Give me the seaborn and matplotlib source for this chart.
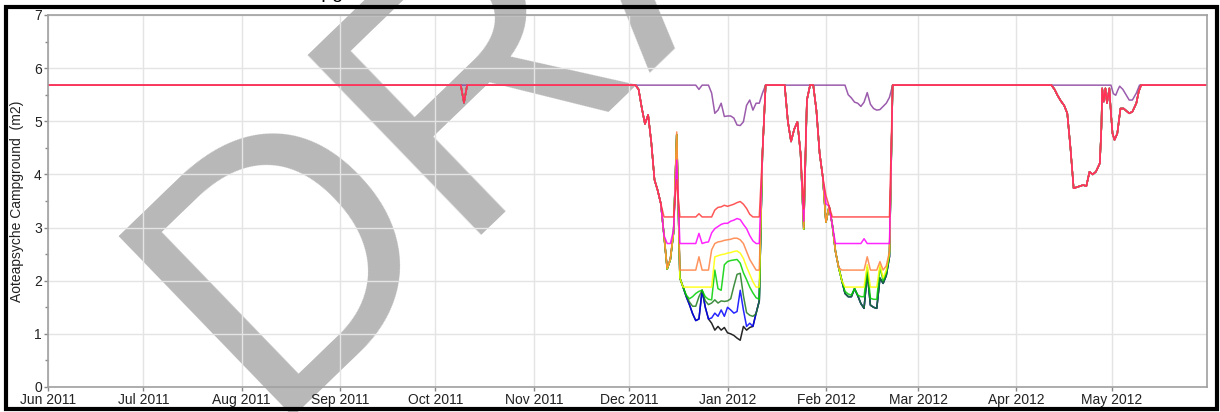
import pandas as pd
import matplotlib
matplotlib.use("Agg")
import matplotlib.pyplot as plt
import matplotlib.dates as mdates
from matplotlib.patches import Rectangle
from matplotlib.ticker import MultipleLocator
import seaborn as sns

# --- data (area in m2) ---
head = [("2011-06-01", 5.68), ("2011-10-09", 5.68), ("2011-10-10", 5.35), ("2011-10-11", 5.68)]
descent = [("2011-12-03", 5.68), ("2011-12-04", 5.60), ("2011-12-05", 5.25), ("2011-12-06", 4.95),
           ("2011-12-07", 5.12), ("2011-12-08", 4.60), ("2011-12-09", 3.90), ("2011-12-10", 3.70),
           ("2011-12-11", 3.45)]
late_jan = [("2012-01-12", 4.40), ("2012-01-13", 5.68), ("2012-01-19", 5.68), ("2012-01-20", 5.00),
            ("2012-01-21", 4.62), ("2012-01-22", 4.85), ("2012-01-23", 4.99), ("2012-01-24", 4.40),
            ("2012-01-26", 5.40), ("2012-01-27", 5.68), ("2012-01-28", 5.68), ("2012-01-29", 5.20),
            ("2012-01-30", 4.40), ("2012-01-31", 3.95), ("2012-02-02", 3.40), ("2012-02-22", 5.68)]
spring = [("2012-04-12", 5.68), ("2012-04-13", 5.60), ("2012-04-14", 5.48), ("2012-04-15", 5.38),
          ("2012-04-16", 5.30), ("2012-04-17", 5.15), ("2012-04-18", 4.50), ("2012-04-19", 3.74),
          ("2012-04-20", 3.76), ("2012-04-21", 3.78), ("2012-04-22", 3.80), ("2012-04-23", 3.78),
          ("2012-04-24", 4.05), ("2012-04-25", 4.00), ("2012-04-26", 4.05), ("2012-04-27 06:00", 4.21),
          ("2012-04-27 18:00", 4.90), ("2012-04-28 00:00", 5.62), ("2012-04-28 12:00", 5.37),
          ("2012-04-29 00:00", 5.62), ("2012-04-29 12:00", 5.34), ("2012-04-30 06:00", 5.62),
          ("2012-04-30 18:00", 5.15), ("2012-05-01 06:00", 4.77), ("2012-05-01 21:00", 4.65),
          ("2012-05-02 18:00", 4.77), ("2012-05-03 18:00", 5.24), ("2012-05-04 18:00", 5.24),
          ("2012-05-06 12:00", 5.15), ("2012-05-07 12:00", 5.18), ("2012-05-08 18:00", 5.34),
          ("2012-05-09 12:00", 5.56), ("2012-05-10 06:00", 5.68), ("2012-05-31", 5.68)]
low_trough = [("2011-12-12", 2.85), ("2011-12-13", 2.22), ("2011-12-14", 2.40), ("2011-12-15", 2.90),
              ("2011-12-16", 4.75), ("2011-12-17", 2.05), ("2011-12-18", 1.88)]
low_feb_start = [("2012-01-25", 2.97), ("2012-02-01", 3.10), ("2012-02-03", 3.05), ("2012-02-04", 2.55),
                 ("2012-02-05", 2.25), ("2012-02-06", 2.00)]
low_feb = [("2012-02-07", 1.76), ("2012-02-08", 1.70), ("2012-02-09", 1.70), ("2012-02-10", 1.85),
           ("2012-02-11", 1.72), ("2012-02-12", 1.57), ("2012-02-13", 1.48), ("2012-02-14", 2.15),
           ("2012-02-15", 1.54), ("2012-02-16", 1.50), ("2012-02-17", 1.48), ("2012-02-18", 2.05),
           ("2012-02-19", 1.95), ("2012-02-20", 2.10), ("2012-02-21", 2.45)]

red_own = [("2011-12-12", 3.20), ("2011-12-15", 3.20), ("2011-12-16", 3.90), ("2011-12-17", 3.20),
           ("2011-12-22", 3.20), ("2011-12-23", 3.26), ("2011-12-24", 3.20), ("2011-12-27", 3.20),
           ("2011-12-28", 3.33), ("2011-12-29", 3.38), ("2011-12-30", 3.39), ("2011-12-31", 3.42),
           ("2012-01-01", 3.40), ("2012-01-02", 3.42), ("2012-01-03", 3.44), ("2012-01-04", 3.47),
           ("2012-01-05", 3.49), ("2012-01-06", 3.44), ("2012-01-07", 3.36), ("2012-01-08", 3.25),
           ("2012-01-09", 3.20), ("2012-01-11", 3.20), ("2012-01-25", 3.35), ("2012-02-01", 3.60),
           ("2012-02-03", 3.20), ("2012-02-21", 3.20)]
magenta_own = [("2011-12-12", 2.85), ("2011-12-13", 2.70), ("2011-12-14", 2.70), ("2011-12-15", 2.95),
               ("2011-12-16", 4.27), ("2011-12-17", 2.70), ("2011-12-22", 2.70), ("2011-12-23", 2.89),
               ("2011-12-24", 2.70), ("2011-12-25", 2.72), ("2011-12-26", 2.73), ("2011-12-27", 2.90),
               ("2011-12-28", 2.98), ("2011-12-29", 3.02), ("2011-12-30", 3.06), ("2011-12-31", 3.08),
               ("2012-01-01", 3.08), ("2012-01-02", 3.12), ("2012-01-03", 3.14), ("2012-01-04", 3.17),
               ("2012-01-05", 3.15), ("2012-01-06", 3.06), ("2012-01-07", 2.98), ("2012-01-08", 2.85),
               ("2012-01-09", 2.75), ("2012-01-10", 2.70), ("2012-01-11", 2.70), ("2012-01-25", 3.12),
               ("2012-02-01", 3.45), ("2012-02-03", 3.05), ("2012-02-04", 2.70), ("2012-02-12", 2.70),
               ("2012-02-13", 2.79), ("2012-02-14", 2.70), ("2012-02-21", 2.70)]
orange_own = [("2011-12-12", 2.85), ("2011-12-13", 2.24), ("2011-12-14", 2.42), ("2011-12-15", 2.95),
              ("2011-12-16", 4.80), ("2011-12-17", 2.20), ("2011-12-22", 2.20), ("2011-12-23", 2.45),
              ("2011-12-24", 2.20), ("2011-12-26", 2.20), ("2011-12-27", 2.58), ("2011-12-28", 2.70),
              ("2011-12-29", 2.73), ("2011-12-30", 2.74), ("2011-12-31", 2.76), ("2012-01-01", 2.77),
              ("2012-01-02", 2.78), ("2012-01-03", 2.80), ("2012-01-04", 2.80), ("2012-01-05", 2.77),
              ("2012-01-06", 2.70), ("2012-01-07", 2.55), ("2012-01-08", 2.40), ("2012-01-09", 2.30),
              ("2012-01-10", 2.20), ("2012-01-11", 2.20), ("2012-01-25", 3.00), ("2012-02-01", 3.10),
              ("2012-02-03", 3.05), ("2012-02-04", 2.55), ("2012-02-05", 2.25), ("2012-02-06", 2.20),
              ("2012-02-13", 2.20), ("2012-02-14", 2.45), ("2012-02-15", 2.20), ("2012-02-17", 2.20),
              ("2012-02-18", 2.36), ("2012-02-19", 2.20), ("2012-02-20", 2.28), ("2012-02-21", 2.55)]
yellow_own = [("2011-12-27", 1.88), ("2011-12-28", 2.45), ("2011-12-29", 2.47), ("2011-12-30", 2.49),
              ("2011-12-31", 2.50), ("2012-01-01", 2.52), ("2012-01-02", 2.53), ("2012-01-03", 2.55),
              ("2012-01-04", 2.56), ("2012-01-05", 2.52), ("2012-01-06", 2.42), ("2012-01-07", 2.26),
              ("2012-01-08", 2.12), ("2012-01-09", 1.98), ("2012-01-10", 1.88), ("2012-01-11", 1.88),
              ("2012-02-07", 1.88), ("2012-02-13", 1.88), ("2012-02-14", 2.30), ("2012-02-15", 1.88),
              ("2012-02-17", 1.88), ("2012-02-18", 2.30), ("2012-02-19", 2.05), ("2012-02-20", 2.20),
              ("2012-02-21", 2.52)]
green_own = [("2011-12-19", 1.73), ("2011-12-20", 1.66), ("2011-12-21", 1.70), ("2011-12-22", 1.76),
             ("2011-12-23", 1.80), ("2011-12-24", 1.82), ("2011-12-25", 1.70), ("2011-12-26", 1.65),
             ("2011-12-27", 1.64), ("2011-12-28", 2.20), ("2011-12-29", 1.85), ("2011-12-30", 1.82),
             ("2011-12-31", 2.30), ("2012-01-01", 2.36), ("2012-01-02", 2.38), ("2012-01-03", 2.39),
             ("2012-01-04", 2.40), ("2012-01-05", 2.33), ("2012-01-06", 2.15), ("2012-01-07", 2.02),
             ("2012-01-08", 1.88), ("2012-01-09", 1.77), ("2012-01-10", 1.68), ("2012-01-11", 1.65),
             ("2012-02-07", 1.80), ("2012-02-08", 1.75), ("2012-02-09", 1.73), ("2012-02-10", 1.85),
             ("2012-02-11", 1.73), ("2012-02-12", 1.70), ("2012-02-13", 1.70), ("2012-02-14", 2.25),
             ("2012-02-15", 1.67), ("2012-02-16", 1.65), ("2012-02-17", 1.65), ("2012-02-18", 2.25),
             ("2012-02-19", 2.00), ("2012-02-20", 2.15), ("2012-02-21", 2.50)]
dkgreen_own = [("2011-12-19", 1.72), ("2011-12-20", 1.60), ("2011-12-21", 1.52), ("2011-12-22", 1.52),
               ("2011-12-23", 1.70), ("2011-12-24", 1.82), ("2011-12-25", 1.62), ("2011-12-26", 1.55),
               ("2011-12-27", 1.58), ("2011-12-28", 1.64), ("2011-12-29", 1.58), ("2011-12-30", 1.62),
               ("2011-12-31", 1.61), ("2012-01-01", 1.62), ("2012-01-02", 1.66), ("2012-01-03", 1.90),
               ("2012-01-04", 2.12), ("2012-01-05", 2.14), ("2012-01-06", 1.72), ("2012-01-07", 1.40),
               ("2012-01-08", 1.35), ("2012-01-09", 1.33), ("2012-01-10", 1.38), ("2012-01-11", 1.62)]
blue_own = [("2011-12-19", 1.70), ("2011-12-20", 1.55), ("2011-12-21", 1.38), ("2011-12-22", 1.25),
            ("2011-12-23", 1.28), ("2011-12-24", 1.82), ("2011-12-25", 1.50), ("2011-12-26", 1.28),
            ("2011-12-27", 1.30), ("2011-12-28", 1.39), ("2011-12-29", 1.33), ("2011-12-30", 1.45),
            ("2011-12-31", 1.33), ("2012-01-01", 1.50), ("2012-01-02", 1.45), ("2012-01-03", 1.39),
            ("2012-01-04", 1.42), ("2012-01-05", 1.82), ("2012-01-06", 1.45), ("2012-01-07", 1.14),
            ("2012-01-08", 1.20), ("2012-01-09", 1.14), ("2012-01-10", 1.39), ("2012-01-11", 1.62)]
black_own = [("2011-12-19", 1.70), ("2011-12-20", 1.55), ("2011-12-21", 1.38), ("2011-12-22", 1.25),
             ("2011-12-23", 1.28), ("2011-12-24", 1.82), ("2011-12-25", 1.50), ("2011-12-26", 1.28),
             ("2011-12-27", 1.20), ("2011-12-28", 1.07), ("2011-12-29", 1.14), ("2011-12-30", 1.07),
             ("2011-12-31", 1.12), ("2012-01-01", 1.02), ("2012-01-02", 1.00), ("2012-01-03", 0.97),
             ("2012-01-04", 0.92), ("2012-01-05", 0.88), ("2012-01-06", 1.14), ("2012-01-07", 1.07),
             ("2012-01-08", 1.12), ("2012-01-09", 1.14), ("2012-01-10", 1.39), ("2012-01-11", 1.62)]
purple = [("2011-06-01", 5.68), ("2011-12-22", 5.68), ("2011-12-23", 5.60), ("2011-12-24", 5.68),
          ("2011-12-26", 5.68), ("2011-12-27", 5.53), ("2011-12-28", 5.15), ("2011-12-29", 5.21),
          ("2011-12-30", 5.34), ("2011-12-31", 5.09), ("2012-01-01", 5.10), ("2012-01-02", 5.10),
          ("2012-01-03", 5.06), ("2012-01-04", 4.93), ("2012-01-05", 4.92), ("2012-01-06", 4.99),
          ("2012-01-07", 5.30), ("2012-01-08", 5.40), ("2012-01-09", 5.21), ("2012-01-10", 5.34),
          ("2012-01-11", 5.34), ("2012-01-12", 5.53), ("2012-01-13", 5.68), ("2012-02-07", 5.68),
          ("2012-02-08", 5.50), ("2012-02-09", 5.44), ("2012-02-10", 5.36), ("2012-02-11", 5.34),
          ("2012-02-12", 5.28), ("2012-02-13", 5.36), ("2012-02-14", 5.54), ("2012-02-15", 5.32),
          ("2012-02-16", 5.24), ("2012-02-17", 5.21), ("2012-02-18", 5.22), ("2012-02-19", 5.28),
          ("2012-02-20", 5.34), ("2012-02-21", 5.45), ("2012-02-22", 5.68), ("2012-04-30 18:00", 5.68),
          ("2012-05-01 12:00", 5.52), ("2012-05-02 06:00", 5.49), ("2012-05-03 00:00", 5.60),
          ("2012-05-03 12:00", 5.66), ("2012-05-04 12:00", 5.60), ("2012-05-05 12:00", 5.50),
          ("2012-05-06 12:00", 5.40), ("2012-05-07 12:00", 5.40), ("2012-05-08 18:00", 5.53),
          ("2012-05-09 18:00", 5.68), ("2012-05-31", 5.68)]

series = {
    "purple": purple,
    "black": head + descent + low_trough + black_own + late_jan + low_feb_start + low_feb + spring,
    "blue": head + descent + low_trough + blue_own + late_jan + low_feb_start + low_feb + spring,
    "darkgreen": head + descent + low_trough + dkgreen_own + late_jan + low_feb_start + low_feb + spring,
    "green": head + descent + low_trough + green_own + late_jan + low_feb_start + spring,
    "yellow": head + descent + low_trough + yellow_own + late_jan + low_feb_start + spring,
    "orange": head + descent + orange_own + late_jan + spring,
    "magenta": head + descent + magenta_own + late_jan + spring,
    "red": head + descent + red_own + late_jan + spring,
}
palette = {"purple": "#8a3f9e", "black": "#000000", "blue": "#0000ff", "darkgreen": "#1f7a1f",
           "green": "#00d000", "yellow": "#ffff00", "orange": "#ff8040", "magenta": "#ff00ff",
           "red": "#ff3a3a"}

rows = []
for name, pts in series.items():
    for d, v in pts:
        rows.append((pd.Timestamp(d), v, name))
df = pd.DataFrame(rows, columns=["date", "value", "series"])

sns.set_theme(style="ticks")
plt.rcParams['font.family'] = ['Liberation Sans', 'DejaVu Sans']

W, H = 1220, 412
fig = plt.figure(figsize=(W / 100, H / 100), dpi=100)
ax = fig.add_axes([48 / W, 25 / H, 1159 / W, 372 / H])
ax.patch.set_alpha(0)

sns.lineplot(data=df, x="date", y="value", hue="series", hue_order=list(series.keys()),
             palette=palette, estimator=None, sort=True, legend=False,
             linewidth=1.1, alpha=0.85, ax=ax)

ax.set_xlim(pd.Timestamp("2011-06-01"), pd.Timestamp("2012-05-31"))
ax.set_ylim(0, 7)
ax.xaxis.set_major_locator(mdates.MonthLocator())
ax.xaxis.set_major_formatter(mdates.DateFormatter('%b %Y'))
ax.yaxis.set_major_locator(MultipleLocator(1))
ax.yaxis.set_minor_locator(MultipleLocator(0.5))
ax.grid(True, which='major', color='#e4e4e4', linewidth=1)
ax.tick_params(which='major', length=3, width=1, color='#888888', labelsize=10,
               labelcolor='#222222', pad=1.5)
ax.tick_params(axis='y', which='minor', length=2, width=1, color='#888888')
for s in ax.spines.values():
    s.set_color('#a0a0a0')
    s.set_linewidth(1.2)
ax.set_xlabel("")
ax.set_ylabel("Aoteapsyche Campground  (m2)", fontsize=10, color='#222222')
ax.yaxis.set_label_coords(-0.021, 0.5)

# watermark behind the plot, partially hidden title, outer frame
fig.text(263 / W, -5 / H, "DRAFT", fontsize=262, rotation=44, rotation_mode='anchor',
         ha='left', va='baseline', color='#b8b8b8', zorder=-1)
fig.text(280 / W, 1.0 + 1.5 / H, "Campground", fontsize=14, ha='left', va='baseline',
         color='black')
fig.add_artist(Rectangle((6 / W, 3 / H), 1211 / W, 402.5 / H, transform=fig.transFigure,
                         fill=False, lw=3, ec='black', zorder=10))

fig.savefig("out.png", dpi=100)
